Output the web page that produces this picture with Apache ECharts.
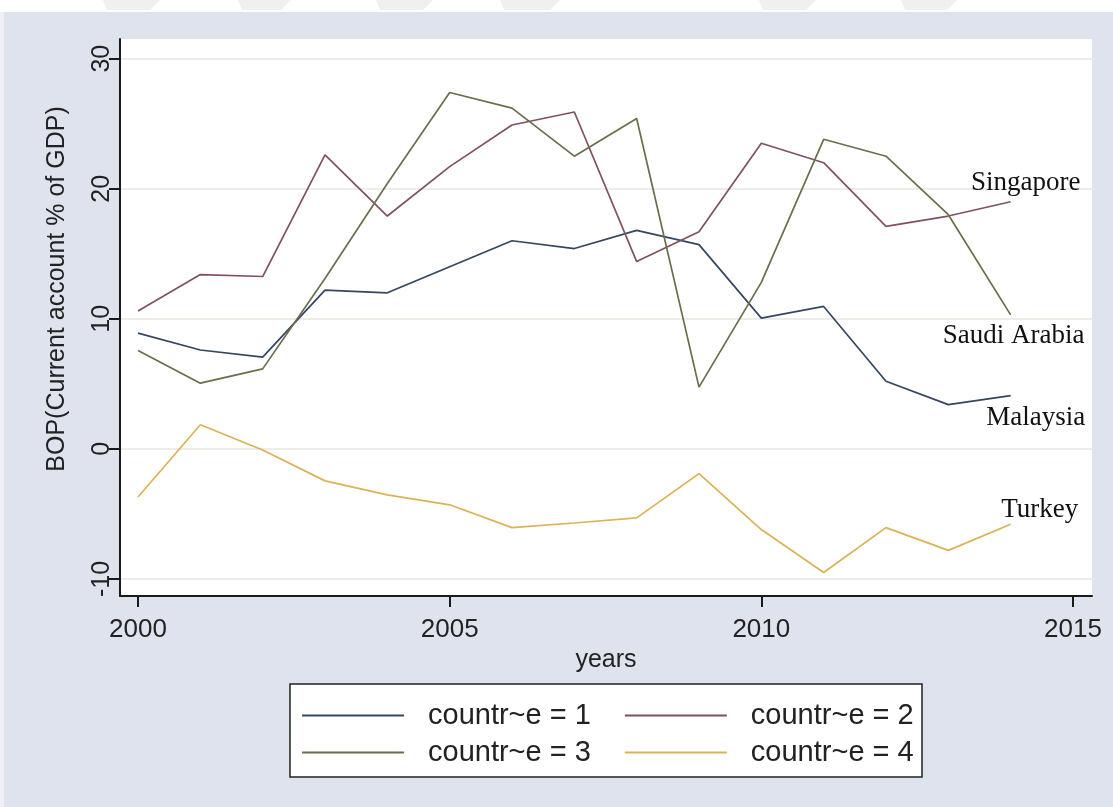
<!DOCTYPE html>
<html>
<head>
<meta charset="utf-8">
<script src="https://cdn.jsdelivr.net/npm/echarts@6/dist/echarts.min.js"></script>
<style>
  html, body { margin: 0; padding: 0; background: #ffffff; }
  #chart { width: 1113px; height: 807px; }
</style>
</head>
<body>
<div id="chart"></div>
<script>
// Current account balance (% of GDP), 2000-2014
const years = [2000, 2001, 2002, 2003, 2004, 2005, 2006, 2007, 2008, 2009, 2010, 2011, 2012, 2013, 2014];
const malaysia  = [8.9, 7.6, 7.05, 12.2, 12.0, 14.0, 16.0, 15.4, 16.8, 15.7, 10.05, 10.95, 5.2, 3.4, 4.1];
const singapore = [10.6, 13.4, 13.25, 22.6, 17.9, 21.7, 24.9, 25.9, 14.4, 16.7, 23.5, 22.0, 17.1, 17.9, 19.0];
const saudi     = [7.56, 5.05, 6.15, 13.1, 20.4, 27.4, 26.2, 22.5, 25.4, 4.75, 12.8, 23.8, 22.5, 18.0, 10.3];
const turkey    = [-3.7, 1.85, -0.08, -2.46, -3.54, -4.3, -6.05, -5.7, -5.3, -1.9, -6.2, -9.5, -6.05, -7.8, -5.8];

const legendNames = ['countr~e = 1', 'countr~e = 2', 'countr~e = 3', 'countr~e = 4'];
const countryLabels = ['Malaysia', 'Singapore', 'Saudi Arabia', 'Turkey'];
const xTicks = [2000, 2005, 2010, 2015];
const yTicks = [-10, 0, 10, 20, 30];
const xTitle = 'years';
const yTitle = 'BOP(Current account % of GDP)';

const seriesValues = [malaysia, singapore, saudi, turkey];
const colors = ['#35475e', '#7f5260', '#676f4c', '#dbb257'];
// label offsets from each series' last point
const labelOffsets = [[25, 22], [15, -19], [3, 21], [29, -14]];

const sans = '"Liberation Sans", Arial, sans-serif';
const serif = '"Liberation Serif", "Times New Roman", serif';

const chart = echarts.init(document.getElementById('chart'), null, { renderer: 'canvas' });

const series = seriesValues.map((vals, i) => {
  const pts = years.map((y, k) => [y, vals[k]]);
  const last = pts[pts.length - 1];
  return {
    name: legendNames[i],
    type: 'line',
    data: pts,
    symbol: 'none',
    color: colors[i],
    lineStyle: { width: 1.7, color: colors[i] },
    z: 3 + i,
    markPoint: {
      symbol: 'circle',
      symbolSize: 0,
      silent: true,
      data: [{ coord: last, value: countryLabels[i] }],
      label: {
        show: true,
        position: 'inside',
        offset: labelOffsets[i],
        formatter: countryLabels[i],
        fontFamily: serif,
        fontSize: 27,
        color: '#111111'
      }
    }
  };
});

// watermark strip along the top edge
const stripes = [[103, 160], [238, 291], [376, 433], [500, 560], [759, 816], [901, 957]];
const graphics = [
  { type: 'rect', shape: { x: 0, y: 0, width: 1113, height: 12 }, style: { fill: '#ffffff' }, z: -5 },
  { type: 'rect', shape: { x: 0, y: 12, width: 4, height: 795 }, style: { fill: '#eef0f5' }, z: -5 }
];
stripes.forEach(([a, b]) => {
  graphics.push({
    type: 'polygon',
    shape: { points: [[a, 0], [b, 0], [b - 10, 10], [a + 4, 10]] },
    style: { fill: '#f0f0f0' },
    z: -4
  });
});
// legend frame
graphics.push({
  type: 'rect',
  shape: { x: 290, y: 684, width: 632, height: 93 },
  style: { fill: '#ffffff', stroke: '#222222', lineWidth: 1.5 },
  z: 1
});
// y-axis title
graphics.push({
  type: 'text',
  x: 57,
  y: 289,
  rotation: Math.PI / 2,
  style: {
    text: yTitle,
    font: '25px ' + sans,
    fill: '#222222',
    align: 'center',
    verticalAlign: 'middle'
  },
  z: 5
});

const legendCommon = {
  left: 302,
  padding: 0,
  icon: 'rect',
  itemWidth: 102,
  itemHeight: 2,
  itemGap: 34,
  selectedMode: false,
  textStyle: { fontFamily: sans, fontSize: 29, color: '#222222', padding: [0, 0, 0, 19] },
  z: 10
};

chart.setOption({
  animation: false,
  backgroundColor: '#dfe3ee',
  textStyle: { fontFamily: sans },
  graphic: graphics,
  legend: [
    Object.assign({}, legendCommon, { top: 701, data: legendNames.slice(0, 2) }),
    Object.assign({}, legendCommon, { top: 738, data: legendNames.slice(2, 4) })
  ],
  grid: {
    left: 120, right: 21, top: 39, bottom: 211,
    show: true, backgroundColor: '#ffffff', borderWidth: 0
  },
  xAxis: {
    type: 'value',
    min: 1999.711,
    max: 2015.305,
    name: xTitle,
    nameLocation: 'middle',
    nameGap: 50,
    nameTextStyle: { fontFamily: sans, fontSize: 25, color: '#222222' },
    axisLine: { show: true, onZero: false, lineStyle: { color: '#1a1a1a', width: 2 } },
    axisTick: { show: true, customValues: xTicks, length: 11, lineStyle: { color: '#1a1a1a', width: 2 } },
    axisLabel: { customValues: xTicks, margin: 21, fontSize: 26, color: '#222222', formatter: v => String(v) },
    splitLine: { show: false }
  },
  yAxis: {
    type: 'value',
    min: -11.31,
    max: 31.51,
    axisLine: { show: true, onZero: false, lineStyle: { color: '#1a1a1a', width: 2 } },
    axisTick: { show: true, customValues: yTicks, length: 11, lineStyle: { color: '#1a1a1a', width: 2 } },
    axisLabel: { customValues: yTicks, rotate: 90, margin: 5, fontSize: 25, color: '#222222' },
    splitLine: { show: true, lineStyle: { color: '#e6e6e2', width: 1.5 } }
  },
  series: series
});
</script>
</body>
</html>
